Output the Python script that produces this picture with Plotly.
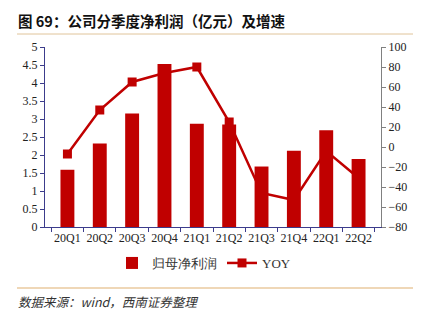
import plotly.graph_objects as go

quarters = ["20Q1", "20Q2", "20Q3", "20Q4", "21Q1", "21Q2", "21Q3", "21Q4", "22Q1", "22Q2"]
net_profit = [1.59, 2.32, 3.15, 4.53, 2.87, 2.85, 1.68, 2.12, 2.69, 1.89]
yoy = [-7, 37, 65, 74, 80, 25, -46, -53, -4, -31]
left_ticks = [0, 0.5, 1, 1.5, 2, 2.5, 3, 3.5, 4, 4.5, 5]
right_ticks = [-80, -60, -40, -20, 0, 20, 40, 60, 80, 100]

RED = "#C00000"
NAVY = "#3C3C8C"
GREY = "#808080"
SERIF = "Liberation Serif"
CJK = "Noto Sans CJK SC"

W, H = 429, 324
L, R, T, B = 45, 381, 47, 227


def px(x):
    return (x - L) / (R - L)


def py(y):
    return (B - y) / (B - T)


fig = go.Figure()
fig.add_trace(go.Bar(
    x=quarters, y=net_profit, name="归母净利润", yaxis="y2",
    marker=dict(color=RED, line=dict(width=0)),
))
fig.add_trace(go.Scatter(
    x=quarters, y=yoy, name="YOY", yaxis="y", mode="lines+markers",
    line=dict(color=RED, width=2.5),
    marker=dict(symbol="square", size=9, color=RED),
))

fig.update_layout(
    width=W, height=H,
    margin=dict(l=L, r=W - R, t=T, b=H - B),
    paper_bgcolor="white", plot_bgcolor="white",
    bargap=0.57,
    showlegend=True,
    font=dict(family=SERIF),
    legend=dict(orientation="h", x=px(112), xanchor="left", y=py(278), yanchor="bottom",
                font=dict(family=SERIF, size=13, color="#333333"),
                itemwidth=30, tracegroupgap=0, bgcolor="rgba(0,0,0,0)"),
    xaxis=dict(
        type="category", showgrid=False, showline=True, linecolor=NAVY, linewidth=1,
        ticks="outside", ticklen=4, tickcolor=NAVY, tickson="boundaries", tickangle=0,
        tickfont=dict(family=SERIF, size=12, color="#222222"), mirror=False,
    ),
    yaxis=dict(
        side="right", range=[-80, 100], tickvals=right_ticks,
        showgrid=False, zeroline=False, showline=True, linecolor=GREY, linewidth=1,
        ticks="outside", ticklen=4, tickcolor=GREY,
        tickfont=dict(family=SERIF, size=12, color="#222222"),
    ),
    yaxis2=dict(
        overlaying="y", side="left", range=[0, 5], tickvals=left_ticks,
        ticktext=[f"{v:g}" for v in left_ticks],
        showgrid=False, zeroline=False, showline=True, linecolor=NAVY, linewidth=1,
        ticks="outside", ticklen=4, tickcolor=NAVY,
        tickfont=dict(family=SERIF, size=12, color="#222222"),
    ),
)

# title and rules
fig.add_annotation(
    text="<b>图 69：公司分季度净利润（亿元）及增速</b>",
    xref="paper", yref="paper", x=px(16), y=py(20), xanchor="left", yanchor="middle",
    showarrow=False, font=dict(family=CJK, size=14.5, color="#111111"),
)
fig.add_shape(type="line", xref="paper", yref="paper", x0=px(17), x1=px(413), y0=py(34), y1=py(34),
              line=dict(color="#E0C49A", width=1))
fig.add_shape(type="line", xref="paper", yref="paper", x0=px(17), x1=px(413), y0=py(288), y1=py(288),
              line=dict(color="#E0B070", width=1.2))
fig.add_annotation(
    text="<i>数据来源：wind，西南证券整理</i>",
    xref="paper", yref="paper", x=px(16), y=py(301), xanchor="left", yanchor="middle",
    showarrow=False, font=dict(family=CJK, size=12.5, color="#333333"),
)

fig.write_html("out.html")
